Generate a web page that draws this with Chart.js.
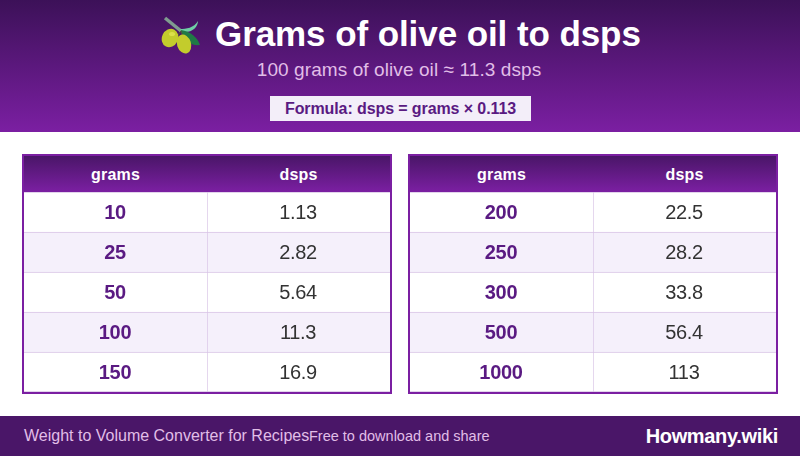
<!DOCTYPE html>
<html>
<head>
<meta charset="utf-8">
<script src="https://cdn.jsdelivr.net/npm/chart.js@4"></script>
<style>
  html, body { margin: 0; padding: 0; background: #fff; }
  body { position: relative; width: 800px; height: 456px; overflow: hidden; font-family: "Liberation Sans", Arial, sans-serif; }
  .topo { position: absolute; left: 0; top: 0; width: 800px; height: 132px; background: linear-gradient(#3c1158, #7b1fa2); text-align: center; }
  .titulo { position: absolute; left: 215px; top: 14px; font-size: 35px; letter-spacing: -0.08px; line-height: 40px; font-weight: bold; color: #fff; white-space: nowrap; }
  .sub { position: absolute; left: 0; width: 798px; top: 59px; font-size: 19px; letter-spacing: 0.09px; line-height: 22px; color: #e1bee7; }
  .formula { position: absolute; left: 270px; top: 96px; width: 261px; height: 25px; line-height: 25px; background: #f3eef9; color: #5a1a82; font-size: 16px; letter-spacing: -0.1px; font-weight: bold; }
  .olive { position: absolute; left: 160px; top: 15px; }
  .tabela { position: absolute; top: 154px; width: 366px; height: 236px; border: 2px solid #7b1fa2; }
  .cab { height: 36px; background: linear-gradient(#4a1668, #7b1fa2); display: flex; color: #fff; font-weight: bold; font-size: 16px; letter-spacing: 0.2px; line-height: 37px; text-align: center; }
  .cab div { width: 183px; }
  .tabela canvas { display: block; }
  .rodape { position: absolute; left: 0; top: 416px; width: 800px; height: 40px; background: #4a1668; }
  .rodape span { position: absolute; white-space: nowrap; }
  .r1 { left: 24px; top: 10px; font-size: 16px; line-height: 20px; color: #e1bee7; }
  .r2 { left: 309px; top: 10px; font-size: 14.5px; line-height: 20px; color: #e1bee7; }
  .r3 { right: 22px; top: 8px; font-size: 20px; letter-spacing: -0.33px; line-height: 24px; font-weight: bold; color: #fff; }
</style>
</head>
<body>
<div class="topo">
  <svg class="olive" width="44" height="42" viewBox="160 15 44 42">
    <path d="M165 18 L181 31" stroke="#7f9c8f" stroke-width="3.5" fill="none"/>
    <path d="M180 29 C186 29 194 28 198 21 C198 27 192 33 183 32 Z" fill="#6fcfa5"/>
    <path d="M181 30 C190 31 198 38 200 45 C191 46 184 41 181 30 Z" fill="#1f7a45"/>
    <path d="M181 31 L178 35 M181 31 L183 37" stroke="#4c5a3a" stroke-width="1" fill="none"/>
    <ellipse cx="170" cy="38" rx="8" ry="9.5" transform="rotate(25 170 38)" fill="#c3cc2c"/>
    <ellipse cx="184" cy="44" rx="7" ry="9.8" transform="rotate(-18 184 44)" fill="#c3cc2c"/>
    <ellipse cx="172" cy="34" rx="3" ry="2" fill="#dce04a"/>
  </svg>
  <div class="titulo">Grams of olive oil to dsps</div>
  <div class="sub">100 grams of olive oil ≈ 11.3 dsps</div>
  <div class="formula">Formula: dsps = grams × 0.113</div>
</div>

<div class="tabela" style="left:22px"><div class="cab"><div>grams</div><div>dsps</div></div><canvas id="tabela1" width="366" height="200"></canvas></div>
<div class="tabela" style="left:408px"><div class="cab"><div>grams</div><div>dsps</div></div><canvas id="tabela2" width="366" height="200"></canvas></div>

<div class="rodape">
  <span class="r1">Weight to Volume Converter for Recipes</span>
  <span class="r2">Free to download and share</span>
  <span class="r3">Howmany.wiki</span>
</div>

<script>
const gramasEsq = ['10', '25', '50', '100', '150'];
const dspsEsq = ['1.13', '2.82', '5.64', '11.3', '16.9'];
const gramasDir = ['200', '250', '300', '500', '1000'];
const dspsDir = ['22.5', '28.2', '33.8', '56.4', '113'];

// escreve o texto de cada celula no centro da barra
const textoCelulas = {
  id: 'textoCelulas',
  afterDatasetsDraw(chart) {
    const ctx = chart.ctx;
    ctx.save();
    ctx.textAlign = 'center';
    ctx.textBaseline = 'middle';
    ctx.letterSpacing = '-0.3px';
    chart.data.datasets.forEach((ds, i) => {
      chart.getDatasetMeta(i).data.forEach((barra, j) => {
        const c = barra.getCenterPoint();
        ctx.font = (i === 0 ? 'bold ' : '') + '20px "Liberation Sans"';
        ctx.fillStyle = i === 0 ? '#5a1a82' : '#333333';
        ctx.fillText(ds.textos[j], c.x - 0.5, c.y + 1);
      });
    });
    ctx.restore();
  }
};

function criaTabela(id, gramas, dsps) {
  const fundo = gramas.map((g, i) => i % 2 === 0 ? '#ffffff' : '#f5f0fb');
  const um = gramas.map(() => 1); // cada coluna ocupa a mesma largura
  const ultima = gramas.length - 1;
  new Chart(document.getElementById(id), {
    type: 'bar',
    data: {
      labels: gramas,
      datasets: [
        { textos: gramas, data: um, backgroundColor: fundo, borderColor: '#d8c4e6', borderWidth: c => ({ top: 1, bottom: c.dataIndex === ultima ? 1 : 0 }), borderSkipped: false },
        { textos: dsps, data: um, backgroundColor: fundo, borderColor: '#d8c4e6', borderWidth: c => ({ top: 1, left: 1, bottom: c.dataIndex === ultima ? 1 : 0 }), borderSkipped: false }
      ]
    },
    options: {
      indexAxis: 'y',
      responsive: false,
      animation: false,
      barPercentage: 1,
      categoryPercentage: 1,
      layout: { padding: 0 },
      plugins: { legend: { display: false }, tooltip: { enabled: false } },
      scales: {
        x: { stacked: true, min: 0, max: 2, display: false },
        y: { stacked: true, display: false }
      }
    },
    plugins: [textoCelulas]
  });
}

criaTabela('tabela1', gramasEsq, dspsEsq);
criaTabela('tabela2', gramasDir, dspsDir);
</script>
</body>
</html>
